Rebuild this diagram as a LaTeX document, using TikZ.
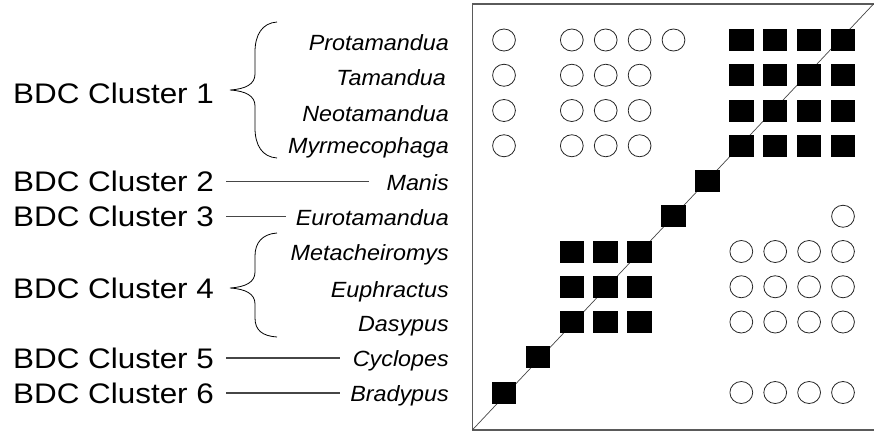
\documentclass[tikz,border=0pt]{standalone}
\usepackage{fontspec}
\setmainfont{Liberation Sans}
\usepackage{graphicx}
\definecolor{boxgray}{RGB}{90,90,90}
\definecolor{linegray}{RGB}{70,70,70}
\begin{document}
\begin{tikzpicture}[x=1pt,y=-1pt,
  cl/.style={inner sep=0pt, anchor=base west, font=\fontsize{28.3}{30}\selectfont},
  tx/.style={inner sep=0pt, anchor=base east, font=\fontsize{22}{24}\selectfont\itshape},
  link/.style={draw=linegray, line width=1.4pt},
  brace/.style={draw=black, line width=0.8pt},
  circ/.style={draw=black!85, line width=0.8pt},
  sq/.style={fill=black}]
\useasboundingbox (0,0) rectangle (874,431);
% frame and diagonal
\draw[boxgray, line width=1.3pt] (876,4) -- (472.3,4) -- (472.3,430) -- (876,430);
\draw[linegray, line width=0.7pt] (472.3,430) -- (873.5,4);
% cluster labels
\node[cl] (c1) at (13,103.3) {\scalebox{1.11}[1]{BDC Cluster 1}};
\node[cl] (c2) at (13,191.7) {\scalebox{1.11}[1]{BDC Cluster 2}};
\node[cl] (c3) at (13,226.7) {\scalebox{1.11}[1]{BDC Cluster 3}};
\node[cl] (c4) at (13,298.3) {\scalebox{1.11}[1]{BDC Cluster 4}};
\node[cl] (c5) at (13,368.3) {\scalebox{1.11}[1]{BDC Cluster 5}};
\node[cl] (c6) at (13,403.3) {\scalebox{1.11}[1]{BDC Cluster 6}};
% taxa
\node[tx] (t1) at (449,50.5) {\scalebox{1.06}[1]{Protamandua}};
\node[tx] (t2) at (446,85) {\scalebox{1.06}[1]{Tamandua}};
\node[tx] (t3) at (449,121.5) {\scalebox{1.06}[1]{Neotamandua}};
\node[tx] (t4) at (449,153.5) {\scalebox{1.06}[1]{Myrmecophaga}};
\node[tx] (t5) at (449,190) {\scalebox{1.06}[1]{Manis}};
\node[tx] (t6) at (449,225.5) {\scalebox{1.06}[1]{Eurotamandua}};
\node[tx] (t7) at (449,260) {\scalebox{1.06}[1]{Metacheiromys}};
\node[tx] (t8) at (449,297) {\scalebox{1.06}[1]{Euphractus}};
\node[tx] (t9) at (449,331.5) {\scalebox{1.06}[1]{Dasypus}};
\node[tx] (t10) at (449,366.5) {\scalebox{1.06}[1]{Cyclopes}};
\node[tx] (t11) at (449,401) {\scalebox{1.06}[1]{Bradypus}};
% connectors
\draw[link, shorten <=12pt, shorten >=17pt] (c2.east) -- (c2.east -| t5.west);
\draw[link, shorten <=12pt, shorten >=10pt] (c3.east) -- (c3.east -| t6.west);
\draw[link, shorten <=12pt, shorten >=13pt] (c5.east) -- (c5.east -| t10.west);
\draw[link, shorten <=12pt, shorten >=10pt] (c6.east) -- (c6.east -| t11.west);
% braces
\draw[brace] (277,22) .. controls (262,23) and (255,35) .. (255,52) -- (255,74)
  .. controls (255,84) and (246,89) .. (230,90)
  .. controls (246,91) and (255,96) .. (255,106) -- (255,128)
  .. controls (255,145) and (262,157) .. (277,158);
\draw[brace] (277,233) .. controls (262,234) and (255,243) .. (255,256) -- (255,272)
  .. controls (255,282) and (246,287) .. (230,288)
  .. controls (246,289) and (255,294) .. (255,304) -- (255,318)
  .. controls (255,330) and (262,336) .. (277,337);
% matrix cells
\foreach \r/\c in {1/1,1/3,1/4,1/5,1/6,
  2/1,2/3,2/4,2/5, 3/1,3/3,3/4,3/5, 4/1,4/3,4/4,4/5,
  6/11,
  7/8,7/9,7/10,7/11, 8/8,8/9,8/10,8/11, 9/8,9/9,9/10,9/11,
  11/8,11/9,11/10,11/11}
  \draw[circ] ({504+(\c-1)*33.9},{40+(\r-1)*35.25}) ellipse [x radius=11.4pt, y radius=11pt];
\foreach \r/\c in {1/8,1/9,1/10,1/11, 2/8,2/9,2/10,2/11, 3/8,3/9,3/10,3/11, 4/8,4/9,4/10,4/11,
  5/7, 6/6,
  7/3,7/4,7/5, 8/3,8/4,8/5, 9/3,9/4,9/5,
  10/2, 11/1}
  \fill[sq] ({504+(\c-1)*33.9-12.25},{40+(\r-1)*35.25-11}) rectangle ++(24.5,22);
\end{tikzpicture}
\end{document}
